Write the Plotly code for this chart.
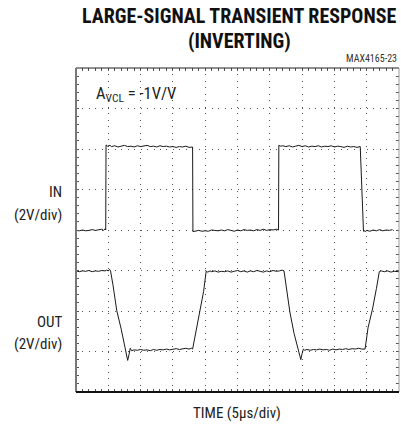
import plotly.graph_objects as go

# ---------------- data (divisions: x 0..10, y 0..8) ----------------
in_t = [0.0, 0.1, 0.2, 0.3, 0.4, 0.5, 0.6, 0.7, 0.8, 0.85, 0.9, 0.92,
        0.93, 0.98, 1.05, 1.1, 1.2, 1.3, 1.4, 1.5, 1.6, 1.7, 1.8, 1.9, 2.0,
        2.1, 2.2, 2.3, 2.4, 2.5, 2.6, 2.7, 2.8, 2.9, 3.0, 3.1, 3.2, 3.3, 3.4,
        3.5, 3.6, 3.61,
        3.62, 3.7, 3.8, 3.9, 4.0, 4.1, 4.2, 4.3, 4.4, 4.5, 4.6, 4.7, 4.8, 4.9,
        5.0, 5.1, 5.2, 5.3, 5.4, 5.5, 5.6, 5.7, 5.8, 5.9, 6.0, 6.1, 6.2, 6.27,
        6.28, 6.33, 6.4, 6.5, 6.6, 6.7, 6.8, 6.9, 7.0, 7.1, 7.2, 7.3, 7.4, 7.5,
        7.6, 7.7, 7.8, 7.9, 8.0, 8.1, 8.2, 8.3, 8.4, 8.5, 8.6, 8.7, 8.8, 8.9,
        8.95,
        8.96, 9.0, 9.1, 9.2, 9.3, 9.4, 9.5, 9.6, 9.7, 9.8, 9.9, 10.0]
in_v = [3.99, 3.98, 4.00, 3.98, 3.99, 4.01, 3.99, 4.00, 4.02, 3.99, 4.03, 4.00,
        6.10, 6.07, 6.09, 6.06, 6.08, 6.05, 6.07, 6.09, 6.06, 6.07, 6.05, 6.08,
        6.06, 6.07, 6.09, 6.06, 6.07, 6.05, 6.08, 6.06, 6.07, 6.05, 6.06, 6.04,
        6.06, 6.05, 6.07, 6.04, 6.06, 6.05,
        3.96, 3.97, 3.99, 3.97, 3.98, 3.97, 4.00, 3.99, 3.98, 4.00, 3.98, 4.01,
        3.99, 3.97, 4.00, 3.98, 4.01, 3.99, 4.00, 3.98, 4.01, 3.99, 4.02, 3.99,
        4.01, 4.00, 4.02, 4.00,
        6.09, 6.07, 6.08, 6.06, 6.08, 6.05, 6.07, 6.09, 6.06, 6.08, 6.05, 6.07,
        6.06, 6.08, 6.05, 6.07, 6.06, 6.08, 6.05, 6.07, 6.06, 6.04, 6.07, 6.05,
        6.06, 6.04, 6.06,
        3.97, 3.98, 3.96, 3.99, 3.97, 4.00, 3.98, 4.01, 3.98, 4.00, 3.99, 4.01]

out_t = [0.0, 0.1, 0.2, 0.3, 0.4, 0.5, 0.6, 0.7, 0.8, 0.9, 0.95, 1.0, 1.04,
         1.07, 1.15, 1.26, 1.4, 1.52, 1.6, 1.64, 1.68, 1.72, 1.8, 1.9, 2.0,
         2.1, 2.2, 2.3, 2.4, 2.5, 2.6, 2.7, 2.8, 2.9, 3.0, 3.1, 3.2, 3.3, 3.4,
         3.5, 3.58, 3.61,
         3.7, 3.84, 3.95, 4.03, 4.08, 4.15, 4.2, 4.3, 4.4, 4.5, 4.6, 4.7, 4.8,
         4.9, 5.0, 5.1, 5.2, 5.3, 5.4, 5.5, 5.6, 5.7, 5.8, 5.9, 6.0, 6.1, 6.2,
         6.3, 6.38, 6.44,
         6.52, 6.62, 6.75, 6.88, 6.96, 7.0, 7.04, 7.08, 7.15, 7.25, 7.35, 7.45,
         7.55, 7.65, 7.75, 7.85, 7.95, 8.05, 8.15, 8.25, 8.35, 8.45, 8.55, 8.65,
         8.75, 8.85, 8.92, 8.95,
         9.04, 9.18, 9.3, 9.39, 9.45, 9.55, 9.65, 9.75, 9.85, 10.0]
out_v = [2.99, 2.97, 2.99, 2.98, 3.00, 2.97, 2.99, 2.98, 3.00, 2.99, 3.01, 2.99, 3.03,
         2.99, 2.62, 2.02, 1.55, 1.08, 0.78, 0.92, 1.08, 1.02, 1.04, 1.03, 1.05,
         1.03, 1.04, 1.02, 1.05, 1.03, 1.05, 1.04, 1.06, 1.04, 1.05, 1.07, 1.05,
         1.06, 1.08, 1.06, 1.08, 1.06,
         1.45, 1.99, 2.48, 2.98, 2.96, 2.99, 2.97, 2.99, 2.96, 2.98, 2.97, 2.99,
         2.96, 2.98, 3.00, 2.97, 2.99, 2.96, 2.99, 2.97, 3.00, 2.98, 2.96, 2.99,
         2.97, 3.00, 2.98, 2.99, 3.01, 2.99,
         2.55, 1.98, 1.45, 1.02, 0.80, 0.95, 1.06, 1.03, 1.05, 1.03, 1.05, 1.04,
         1.06, 1.04, 1.05, 1.03, 1.06, 1.04, 1.06, 1.05, 1.07, 1.05, 1.07, 1.06,
         1.08, 1.06, 1.07, 1.06,
         1.58, 2.05, 2.55, 2.97, 2.99, 2.97, 2.99, 2.96, 2.98, 2.97]

title_lines = ["LARGE-SIGNAL TRANSIENT RESPONSE", "(INVERTING)"]
part_label = "MAX4165-23"
gain_label = "A<sub>VCL</sub> = -1V/V"
in_labels = ["IN", "(2V/div)"]
out_labels = ["OUT", "(2V/div)"]
x_label = "TIME (5\u00b5s/div)"

# ---------------- layout geometry ----------------
W, H = 401, 425
L, R, T, B = 76, 399, 68, 392   # plot area in pixels


def px(xp):
    return (xp - L) / (R - L)


def py(yp):
    return (B - yp) / (B - T)


FONT = "Liberation Sans Narrow, Arial Narrow, Roboto Condensed, DejaVu Sans Condensed, Liberation Sans, Arial, sans-serif"

fig = go.Figure()
fig.add_trace(go.Scatter(x=in_t, y=in_v, mode="lines",
                         line=dict(color="#1a1a1a", width=1), hoverinfo="skip"))
fig.add_trace(go.Scatter(x=out_t, y=out_v, mode="lines",
                         line=dict(color="#1a1a1a", width=1), hoverinfo="skip"))

grid = dict(showgrid=True, gridcolor="#555555", gridwidth=1, griddash="1px,5.46px",
            zeroline=False, showticklabels=False,
            ticks="inside", ticklen=3, tickcolor="#555555",
            showline=False, mirror="ticks",
            minor=dict(dtick=0.2, ticks="inside", ticklen=3, tickcolor="#555555", showgrid=False))

fig.update_xaxes(range=[0, 10], dtick=1, tick0=0, **grid)
fig.update_yaxes(range=[0, 8], dtick=1, tick0=0, **grid)

# frame
shapes = [
    dict(type="line", xref="paper", yref="paper", x0=0, x1=1, y0=1, y1=1,
         line=dict(color="#222222", width=1)),
    dict(type="line", xref="paper", yref="paper", x0=1, x1=1, y0=0, y1=1,
         line=dict(color="#999999", width=1)),
    dict(type="line", xref="paper", yref="paper", x0=0, x1=0, y0=0, y1=1,
         line=dict(color="#777777", width=2)),
    dict(type="line", xref="paper", yref="paper", x0=0, x1=1, y0=0, y1=0,
         line=dict(color="#111111", width=2)),
]

ann = []


def add_text(text, xpix, ypix, size, xanchor="center", bold=False, color="#222222"):
    ann.append(dict(text=("<b>%s</b>" % text) if bold else text,
                    x=px(xpix), y=py(ypix), xref="paper", yref="paper",
                    xanchor=xanchor, yanchor="middle", showarrow=False,
                    font=dict(family=FONT, size=size, color=color)))


add_text(title_lines[0], 239, 16, 20, bold=True, color="#111111")
add_text(title_lines[1], 239, 41, 20, bold=True, color="#111111")
add_text(part_label, 399, 58, 10, xanchor="right", color="#333333")
add_text(gain_label, 94, 94, 16.5, xanchor="left")
add_text(in_labels[0], 64, 192, 15, xanchor="right")
add_text(in_labels[1], 64, 215, 15, xanchor="right")
add_text(out_labels[0], 64, 322, 15, xanchor="right")
add_text(out_labels[1], 64, 344, 15, xanchor="right")
add_text(x_label, 237, 413, 15)

fig.update_layout(width=W, height=H, autosize=False,
                  margin=dict(l=L, r=W - R, t=T, b=H - B, pad=0),
                  paper_bgcolor="white", plot_bgcolor="white",
                  showlegend=False, shapes=shapes, annotations=ann)

fig.write_html("out.html", config={"displayModeBar": False, "staticPlot": True},
               post_script="document.body.style.margin='0';document.body.style.overflow='hidden';")
